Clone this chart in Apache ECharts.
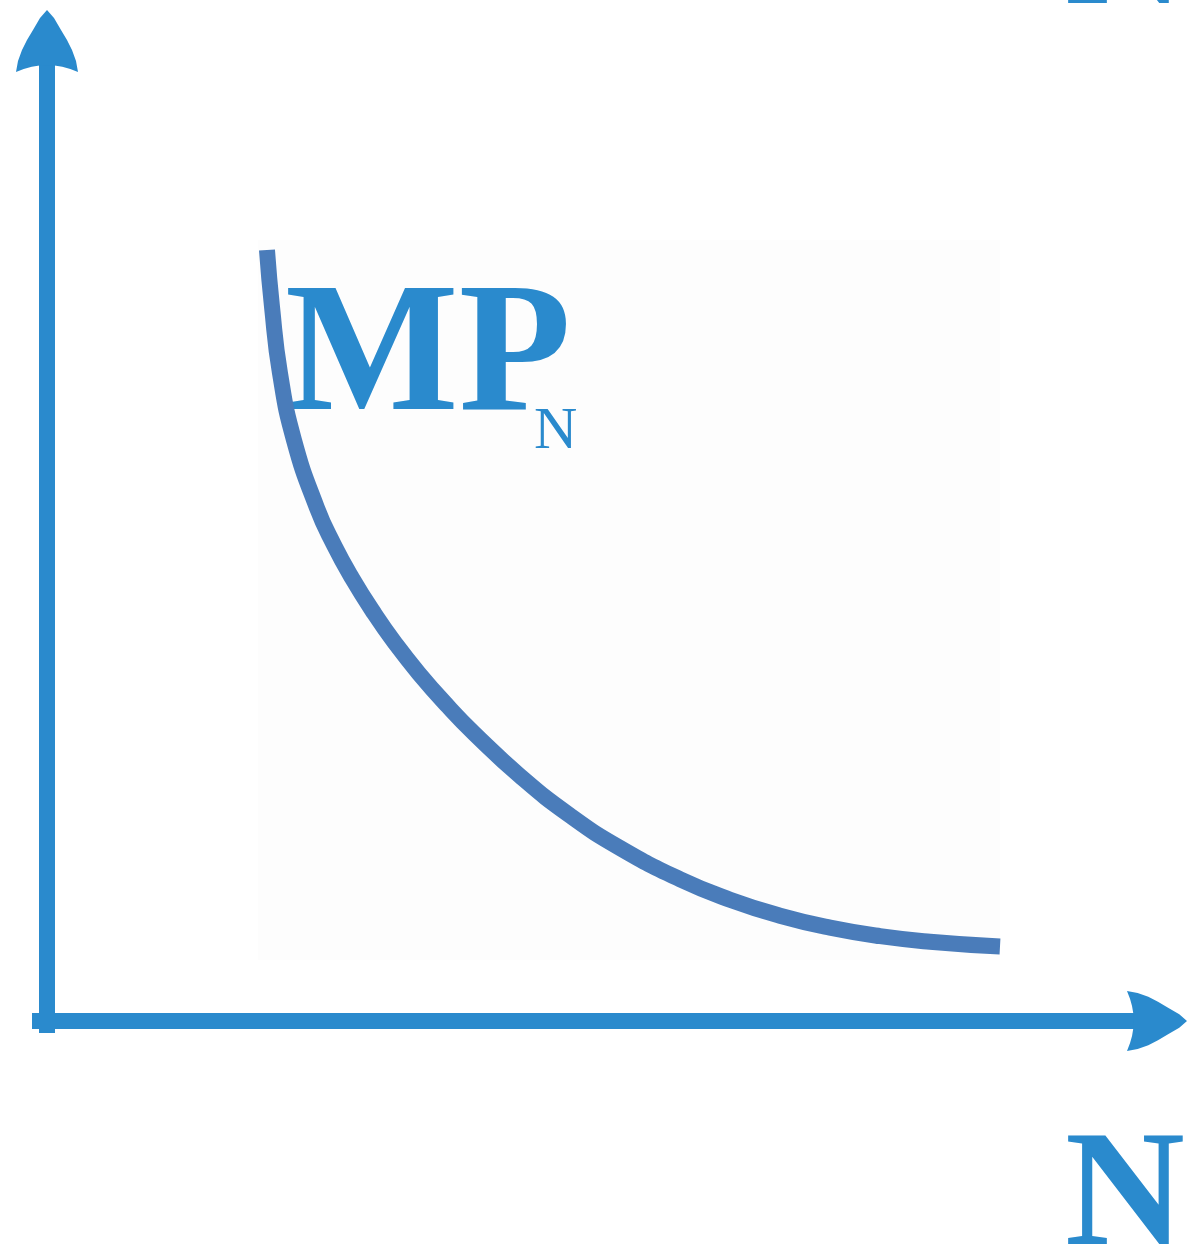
<!DOCTYPE html>
<html>
<head>
<meta charset="utf-8">
<title>MP_N</title>
<script src="https://cdn.jsdelivr.net/npm/echarts@6/dist/echarts.min.js"></script>
<style>
  html, body { margin: 0; padding: 0; background: #ffffff; }
  #chart { width: 1189px; height: 1248px; }
</style>
</head>
<body>
<div id="chart"></div>
<script>
// Labour input N (0–100 across the plot area) and the marginal product of labour MP_N
var laborN = [1.21, 1.89, 2.96, 4.85, 7.95, 10.24, 12.67, 15.63, 18.46, 21.70, 25.61,
              29.11, 35.31, 42.05, 48.79, 56.87, 63.61, 70.35, 77.09, 83.83, 90.57, 100];
var mpN    = [98.61, 90.69, 81.53, 72.22, 62.78, 57.64, 53.06, 48.19, 44.03, 39.79, 35.22,
              31.50, 25.56, 20.07, 15.56, 11.22, 8.38, 6.15, 4.49, 3.31, 2.54, 1.86];

var axisBlue = '#2a8acd';
var curveBlue = '#4a7cba';
// arrowhead with slightly convex flanks and a shallow notch at the base
var arrowHead = 'path://M31,0 L38,8 L45,20 L51,30 L56,40 L60,51 L62,62 Q46,55 31,55 ' +
                'Q16,55 0,62 L2,51 L6,40 L11,30 L17,20 L24,8 Z';

var chart = echarts.init(document.getElementById('chart'), null, { renderer: 'canvas' });

var points = laborN.map(function (n, i) { return [n, mpN[i]]; });

chart.setOption({
  animation: false,
  backgroundColor: '#ffffff',
  grid: [
    // horizontal axis frame
    { left: 32, right: 32, top: 41, bottom: 227, show: false },
    // vertical axis frame
    { left: 47, right: 32, top: 41, bottom: 215, show: false },
    // plotting area for the curve
    { left: 258, right: 189, top: 240, bottom: 288, show: true,
      backgroundColor: '#fdfdfd', borderWidth: 0 }
  ],
  xAxis: [
    { gridIndex: 0, type: 'value', min: 0, max: 1,
      axisLine: { show: true, symbol: ['none', arrowHead], symbolSize: [62, 60],
        lineStyle: { color: axisBlue, width: 16, cap: 'butt' } },
      axisTick: { show: false }, axisLabel: { show: false }, splitLine: { show: false } },
    { gridIndex: 1, type: 'value', min: 0, max: 1, show: false },
    { gridIndex: 2, type: 'value', min: 0, max: 100, show: false }
  ],
  yAxis: [
    { gridIndex: 0, type: 'value', min: 0, max: 1, show: false },
    { gridIndex: 1, type: 'value', min: 0, max: 1,
      axisLine: { show: true, symbol: ['none', arrowHead], symbolSize: [62, 62],
        lineStyle: { color: axisBlue, width: 16, cap: 'butt' } },
      axisTick: { show: false }, axisLabel: { show: false }, splitLine: { show: false } },
    { gridIndex: 2, type: 'value', min: 0, max: 100, show: false }
  ],
  series: [
    {
      name: 'MP_N',
      type: 'line',
      xAxisIndex: 2,
      yAxisIndex: 2,
      data: points,
      smooth: 0.5,
      showSymbol: false,
      clip: false,
      lineStyle: { color: curveBlue, width: 16, cap: 'butt' }
    }
  ],
  graphic: [
    { type: 'text', left: 285, top: 269, silent: true,
      style: { text: 'MP', fill: axisBlue, font: 'bold 184px "Liberation Serif"' } },
    { type: 'text', left: 534, top: 402, silent: true,
      style: { text: 'N', fill: axisBlue, font: '60px "Liberation Serif"' } },
    { type: 'text', left: 1065, top: 1118, silent: true,
      style: { text: 'N', fill: axisBlue, font: 'bold 166px "Liberation Serif"' } },
    { type: 'text', left: 1065, top: -123, silent: true,
      style: { text: 'N', fill: axisBlue, font: 'bold 166px "Liberation Serif"' } }
  ]
});
</script>
</body>
</html>
